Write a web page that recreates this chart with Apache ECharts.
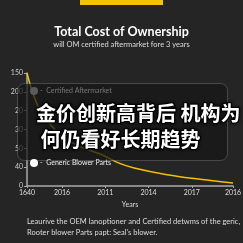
<!DOCTYPE html>
<html>
<head>
<meta charset="utf-8">
<script src="https://cdn.jsdelivr.net/npm/echarts@6/dist/echarts.min.js"></script>
<style>
  html, body { margin: 0; padding: 0; background: #252525; }
  #chart { width: 243px; height: 243px; }
</style>
</head>
<body>
<div id="chart"></div>
<script>
// 数据
const lineX = [0, 0.15, 0.35, 0.8, 1.3, 1.8, 2.25, 2.6, 3.4, 4.2, 5];
const lineY = [150, 122, 98, 68, 52, 42, 30, 24, 15, 9, 4];
const xTicks = [0, 0.85, 1.9, 2.95, 4.0, 5];
const xLabels = ['1640', '2016', '2011', '2014', '2017', '2016'];
const yLabels = ['0', '40', '50', '30', '20', '200', '150'];
const legendNames = ['Certified Aftermarket', 'Generic Blower Parts'];
const overlayLines = ['金价创新高背后 机构为', ' 何仍看好长期趋势'];
const footLines = [
  'Leaurive the OEM lanoptioner and Certified detwms of the geric,',
  'Rooter blower Parts papt: Seal\'s blower.'
];

let chart = echarts.init(document.getElementById('chart'));

let option = {
  backgroundColor: '#252525',
  animation: false,
  title: {
    text: 'Total Cost of Ownership',
    subtext: 'will OM certified aftermarket fore 3 years',
    left: 'center',
    top: 20,
    itemGap: 3,
    textStyle: { color: '#fff', fontSize: 12.5, fontWeight: 'bold', fontFamily: 'Lato' },
    subtextStyle: { color: '#ddd', fontSize: 7.5, fontFamily: 'Lato' }
  },
  grid: { left: 27, right: 10, top: 73, bottom: 57, containLabel: false, outerBoundsMode: 'none' },
  xAxis: {
    type: 'value',
    min: 0,
    max: 5,
    name: 'Years',
    nameLocation: 'middle',
    nameGap: 15,
    nameTextStyle: { color: '#ddd', fontSize: 7, fontFamily: 'Lato' },
    axisLine: { lineStyle: { color: '#aaa', width: 1.5 } },
    axisTick: { show: true, customValues: xTicks, length: 2, lineStyle: { color: '#aaa' } },
    axisLabel: {
      customValues: xTicks,
      color: '#ddd',
      fontSize: 7,
      margin: 3,
      fontFamily: 'Lato',
      formatter: v => xLabels[xTicks.indexOf(v)]
    },
    splitLine: { show: false }
  },
  yAxis: {
    type: 'value',
    min: 0,
    max: 150,
    interval: 25,
    name: 'O.E flies',
    nameLocation: 'middle',
    nameGap: 16,
    nameRotate: 90,
    nameTextStyle: { color: '#fff', fontSize: 8, fontWeight: 'bold', fontFamily: 'Lato' },
    axisLine: { show: true, lineStyle: { color: '#aaa', width: 1.5 } },
    axisTick: { show: true, length: 3, lineStyle: { color: '#aaa' } },
    axisLabel: {
      color: '#ccc',
      fontSize: 7,
      margin: 4,
      fontFamily: 'Lato',
      formatter: v => yLabels[Math.round(v / 25)]
    },
    splitLine: { show: false }
  },
  series: [{
    type: 'line',
    smooth: 0.4,
    symbol: 'none',
    data: lineX.map((x, i) => [x, lineY[i]]),
    lineStyle: { color: '#f2c200', width: 1.5 },
    z: 2
  }],
  graphic: [
    // 顶部黄色条
    { type: 'rect', left: 80, top: 0, shape: { width: 83, height: 5 }, style: { fill: '#f5c400' } },
    // 半透明遮罩框
    {
      type: 'rect', left: 17, top: 83, z: 10,
      shape: { width: 210, height: 77, r: 7 },
      style: { fill: 'rgba(22,22,22,0.72)', stroke: 'rgba(255,255,255,0.18)', lineWidth: 1 }
    },
    // 图例
    { type: 'circle', left: 30, top: 87, z: 11, shape: { r: 4 }, style: { fill: '#5a5a5a' } },
    {
      type: 'text', left: 40, top: 87, z: 11,
      style: { text: '-  ' + legendNames[0], fill: '#777', font: '7px Lato' }
    },
    { type: 'circle', left: 30, top: 159, z: 11, shape: { r: 4 }, style: { fill: '#fff' } },
    {
      type: 'text', left: 40, top: 159, z: 11,
      style: { text: '-  ' + legendNames[1], fill: '#eee', font: '7px Lato' }
    },
    // 中文叠加文字
    {
      type: 'text', left: 35, top: 100, z: 12,
      style: {
        text: overlayLines.join('\n'),
        fill: '#fff',
        font: 'bold 20px "Noto Sans CJK SC"',
        lineHeight: 26,
        stroke: '#000',
        lineWidth: 2,
        textShadowColor: 'rgba(0,0,0,0.8)',
        textShadowBlur: 3
      }
    },
    // 底部说明
    {
      type: 'text', left: 27, top: 216, z: 11,
      style: { text: footLines.join('\n'), fill: '#ddd', font: '7.5px Lato', lineHeight: 11 }
    }
  ]
};

chart.setOption(option);
</script>
</body>
</html>
